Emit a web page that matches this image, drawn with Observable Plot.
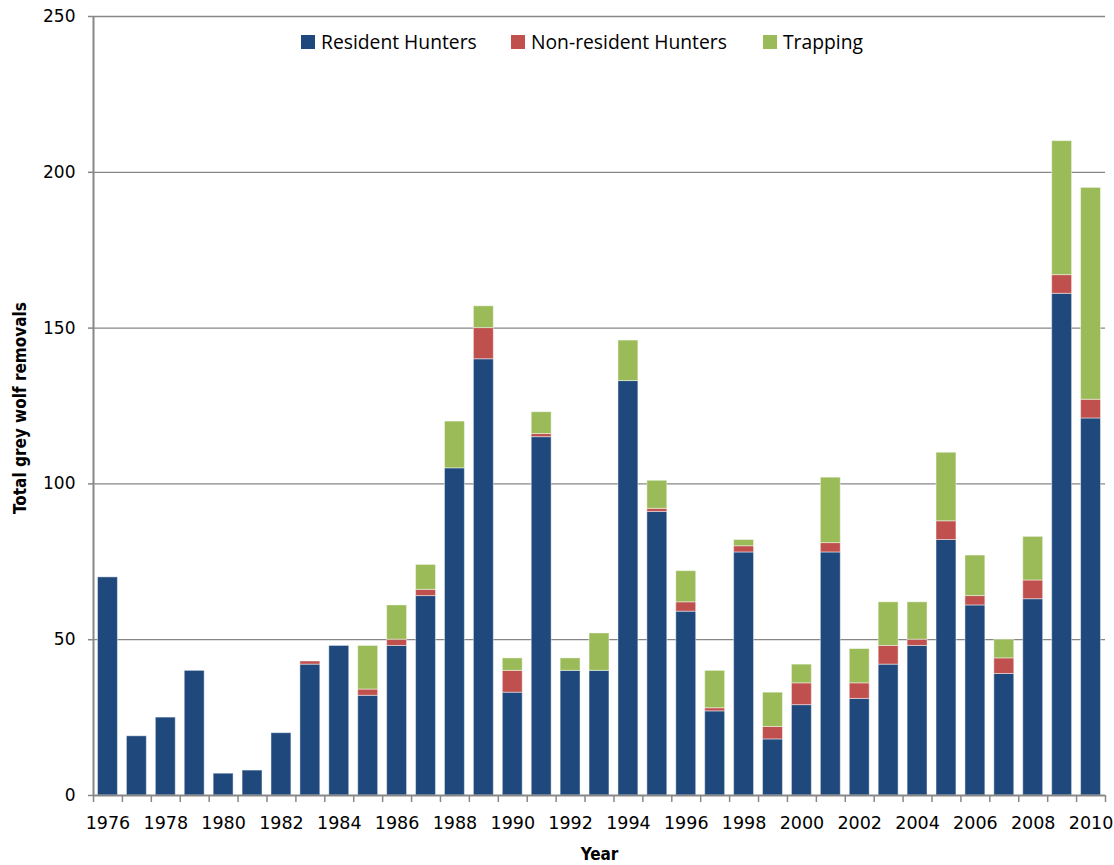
<!DOCTYPE html>
<html>
<head>
<meta charset="utf-8">
<script src="https://cdn.jsdelivr.net/npm/d3@7"></script>
<script src="https://cdn.jsdelivr.net/npm/@observablehq/plot@0.6"></script>
<style>
  body { margin: 0; background: #fff; }
  #wrap { position: relative; width: 1114px; height: 865px; }
  .leg-item { position: absolute; top: 29px; height: 26px; display: flex; align-items: center; font-family: "Open Sans", sans-serif; font-size: 19.3px; line-height: 26px; color: #000; white-space: nowrap; }
  .leg-sw { width: 14px; height: 14px; margin-right: 6px; display: inline-block; }
</style>
</head>
<body>
<div id="wrap"></div>
<script>
// ---- Data ----
const years = [1976,1977,1978,1979,1980,1981,1982,1983,1984,1985,1986,1987,1988,1989,1990,1991,1992,1993,1994,1995,1996,1997,1998,1999,2000,2001,2002,2003,2004,2005,2006,2007,2008,2009,2010];
const residentHunters    = [70,19,25,40,7,8,20,42,48,32,48,64,105,140,33,115,40,40,133,91,59,27,78,18,29,78,31,42,48,82,61,39,63,161,121];
const nonResidentHunters = [0,0,0,0,0,0,0,1,0,2,2,2,0,10,7,1,0,0,0,1,3,1,2,4,7,3,5,6,2,6,3,5,6,6,6];
const trapping           = [0,0,0,0,0,0,0,0,0,14,11,8,15,7,4,7,4,12,13,9,10,12,2,11,6,21,11,14,12,22,13,6,14,43,68];
const seriesNames = ["Resident Hunters", "Non-resident Hunters", "Trapping"];
const seriesColors = ["#1F497D", "#C0504D", "#9BBB59"];
const yTicks = [0, 50, 100, 150, 200, 250];
const xLabelYears = [1976,1978,1980,1982,1984,1986,1988,1990,1992,1994,1996,1998,2000,2002,2004,2006,2008,2010];

// ---- Tidy table ----
const seriesValues = [residentHunters, nonResidentHunters, trapping];
const tidy = [];
years.forEach((yr, i) => {
  seriesNames.forEach((s, k) => tidy.push({year: yr, series: s, value: seriesValues[k][i]}));
});
const boundaries = [...years, years[years.length - 1] + 1];

const axisColor = "#878787";
const labelFont = "Liberation Sans Narrow, DejaVu Sans Condensed, sans-serif";

const plot = Plot.plot({
  width: 1114,
  height: 865,
  marginLeft: 93,
  marginRight: 9,
  marginTop: 16,
  marginBottom: 70,
  style: { fontFamily: "DejaVu Sans, sans-serif", fontSize: "17px", background: "#fff", color: "#000" },
  x: { domain: [years[0], years[years.length - 1] + 1], axis: null },
  y: { domain: [0, 250], axis: null },
  color: { domain: seriesNames, range: seriesColors },
  marks: [
    Plot.ruleY(yTicks.slice(1), { stroke: axisColor, strokeWidth: 1.3 }),
    Plot.rectY(tidy, {
      x: "year", interval: 1, y: "value", fill: "series",
      insetLeft: 4.5, insetRight: 4.5,
      stroke: "#ffffff", strokeOpacity: 0.45, strokeWidth: 1
    }),
    Plot.axisY({ ticks: yTicks, tickSize: 5, tickPadding: 13, tickFormat: d => String(d), stroke: axisColor, strokeWidth: 1.5, label: null, fontSize: 17 }),
    Plot.axisX({ ticks: boundaries, tickSize: 7, tickFormat: () => "", stroke: axisColor, strokeWidth: 1.5, label: null }),
    Plot.axisX({ ticks: xLabelYears.map(d => d + 0.5), tickSize: 0, tickPadding: 21, tickFormat: d => String(Math.floor(d)), label: null, fontSize: 17.5 }),
    Plot.ruleX([years[0]], { stroke: axisColor, strokeWidth: 2 }),
    Plot.ruleY([0], { stroke: axisColor, strokeWidth: 2 }),
    Plot.text(["Total grey wolf removals"], { frameAnchor: "left", textAnchor: "middle", rotate: -90, dx: -73, dy: 2, fontWeight: "bold", fontSize: 17, fontFamily: labelFont }),
    Plot.text(["Year"], { frameAnchor: "bottom", textAnchor: "middle", dy: 64, fontWeight: "bold", fontSize: 17, fontFamily: labelFont })
  ]
});

const wrap = document.getElementById("wrap");
wrap.appendChild(plot);

// ---- Legend (inside plot area, top) ----
const legendLeft = [301, 511, 763];
seriesNames.forEach((s, k) => {
  const item = document.createElement("div");
  item.className = "leg-item";
  item.style.left = legendLeft[k] + "px";
  const sw = document.createElement("span");
  sw.className = "leg-sw";
  sw.style.background = seriesColors[k];
  const tx = document.createElement("span");
  tx.textContent = s;
  item.appendChild(sw);
  item.appendChild(tx);
  wrap.appendChild(item);
});
</script>
</body>
</html>
